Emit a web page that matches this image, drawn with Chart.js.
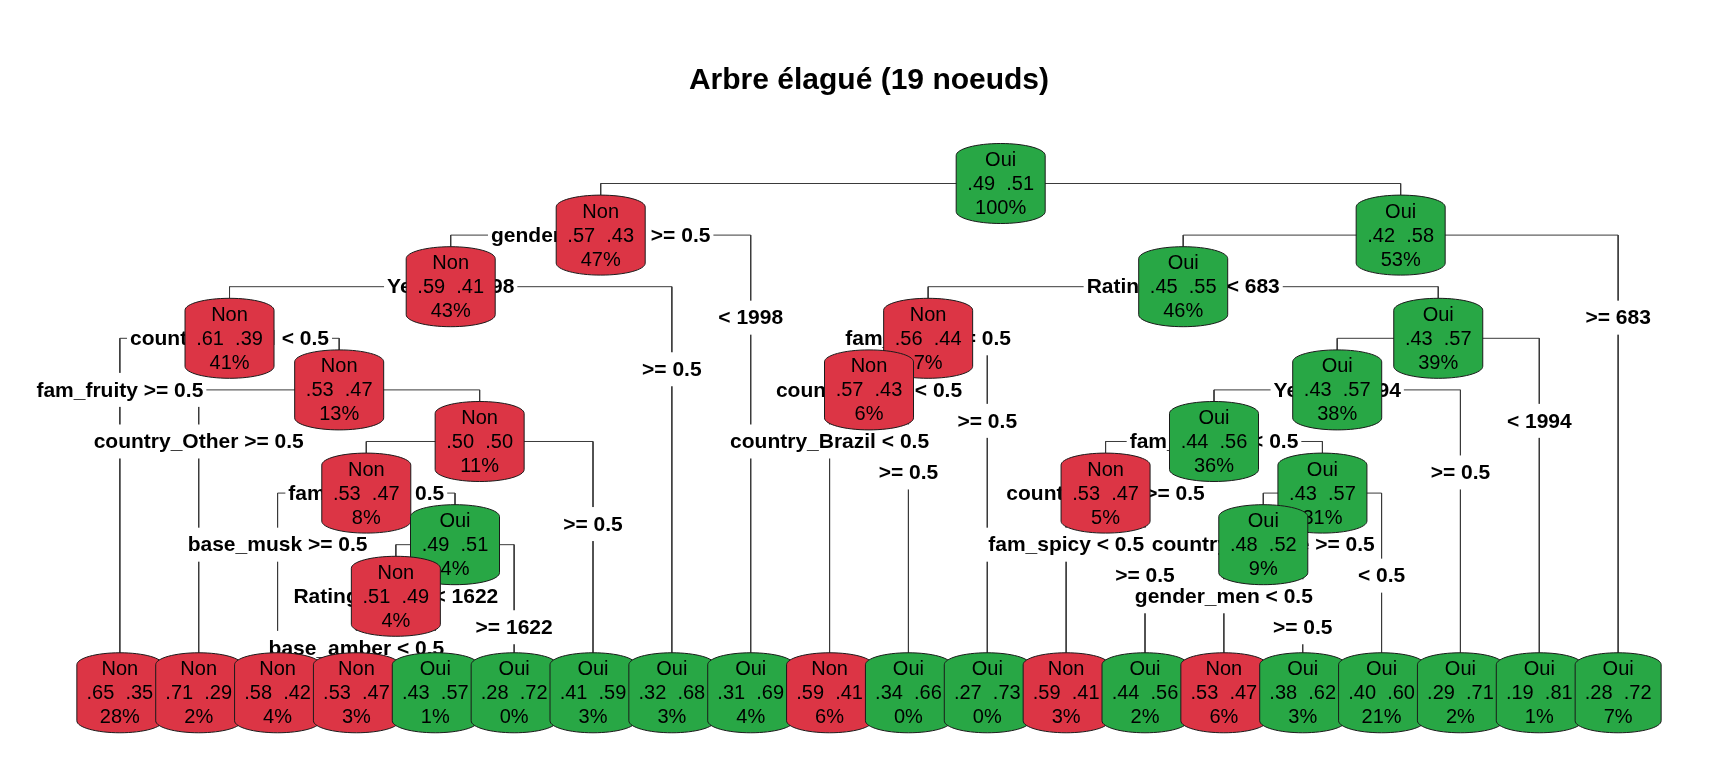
<!DOCTYPE html>
<html>
<head>
<meta charset="utf-8">
<script src="https://cdn.jsdelivr.net/npm/chart.js@4.4.1/dist/chart.umd.min.js"></script>
<style>
  html, body { margin: 0; padding: 0; background: #ffffff; }
  #wrap { width: 1728px; height: 768px; position: relative; }
</style>
</head>
<body>
<div id="wrap"><canvas id="treeChart"></canvas></div>
<script>
// rpart node ids (root = 1, children of n are 2n and 2n+1), preorder
const nodeIds = [1, 2, 4, 8, 16, 17, 34, 35, 70, 140, 141, 282, 564, 565, 283, 71, 9, 5,
  3, 6, 12, 24, 48, 49, 25, 13, 26, 52, 104, 208, 209, 105, 210, 420, 421, 211, 53, 27, 7];
const nodeClass = ['Oui', 'Non', 'Non', 'Non', 'Non', 'Non', 'Non', 'Non', 'Non', 'Non', 'Oui', 'Non', 'Non', 'Oui', 'Oui', 'Oui', 'Oui', 'Oui',
  'Oui', 'Oui', 'Non', 'Non', 'Non', 'Oui', 'Oui', 'Oui', 'Oui', 'Oui', 'Non', 'Non', 'Oui', 'Oui', 'Oui', 'Non', 'Oui', 'Oui', 'Oui', 'Oui', 'Oui'];
const probNon = [.49, .57, .59, .61, .65, .53, .71, .50, .53, .58, .49, .51, .53, .43, .28, .41, .32, .31,
  .42, .45, .56, .57, .59, .34, .27, .43, .43, .44, .53, .59, .44, .43, .48, .53, .38, .40, .29, .19, .28];
const probOui = [.51, .43, .41, .39, .35, .47, .29, .50, .47, .42, .51, .49, .47, .57, .72, .59, .68, .69,
  .58, .55, .44, .43, .41, .66, .73, .57, .57, .56, .47, .41, .56, .57, .52, .47, .62, .60, .71, .81, .72];
const nodePct = [100, 47, 43, 41, 28, 13, 2, 11, 8, 4, 4, 4, 3, 1, 0, 3, 3, 4,
  53, 46, 7, 6, 6, 0, 0, 39, 38, 36, 5, 3, 2, 31, 9, 6, 3, 21, 2, 1, 7];

// split labels: left branch (full) and right branch (short)
const splitIds = [1, 2, 4, 8, 17, 35, 70, 141, 282, 3, 6, 12, 24, 13, 26, 52, 104, 105, 210];
const leftLabels = ['gender_women >= 0.5', 'Year >= 1998', 'country_Brazil < 0.5', 'fam_fruity >= 0.5',
  'country_Other >= 0.5', 'fam_spicy < 0.5', 'base_musk >= 0.5', 'Rating_count < 1622', 'base_amber < 0.5',
  'Rating_count < 683', 'fam_floral >= 0.5', 'country_USA < 0.5', 'country_Brazil < 0.5', 'Year >= 1994',
  'fam_woody < 0.5', 'country_USA >= 0.5', 'fam_spicy < 0.5', 'country_France >= 0.5', 'gender_men < 0.5'];
const rightLabels = ['< 0.5', '< 1998', '>= 0.5', '< 0.5', '< 0.5', '>= 0.5', '< 0.5', '>= 1622', '>= 0.5',
  '>= 683', '< 0.5', '>= 0.5', '>= 0.5', '< 1994', '>= 0.5', '< 0.5', '>= 0.5', '< 0.5', '>= 0.5'];

const chartTitle = 'Arbre élagué (19 noeuds)';

const FONT = '"Liberation Sans", Arial, Helvetica, sans-serif';
const COLORS = { Non: '#DC3545', Oui: '#28A745' };
const LEAF_ROW = 9.87;      // fallen leaves row (in depth units)
const LEFT_OFF = 1, RIGHT_OFF = 1.6;

// layout: leaves get consecutive x, parents sit midway between children
const isNode = new Set(nodeIds);
const layout = {};
let leafCount = 0;
function place(id) {
  const depth = Math.floor(Math.log2(id));
  if (!isNode.has(2 * id)) {
    leafCount += 1;
    layout[id] = { x: leafCount, depth, y: LEAF_ROW, leaf: true };
    return;
  }
  place(2 * id);
  place(2 * id + 1);
  layout[id] = { x: (layout[2 * id].x + layout[2 * id + 1].x) / 2, depth, y: depth, leaf: false };
}
place(1);

const fmtProb = v => v.toFixed(2).replace(/^0/, '');

// branch datasets (square elbows)
const edgeSets = nodeIds.filter(id => id !== 1).map(id => {
  const p = layout[Math.floor(id / 2)], c = layout[id];
  return {
    type: 'line',
    showLine: true,
    data: [{ x: p.x, y: p.y }, { x: c.x, y: p.y }, { x: c.x, y: c.y }],
    borderColor: '#3a3a3a',
    borderWidth: 1,
    pointRadius: 0,
    tension: 0,
    fill: false
  };
});

const nodeSet = {
  type: 'scatter',
  showLine: false,
  data: nodeIds.map(id => ({ x: layout[id].x, y: layout[id].y })),
  pointRadius: 0
};

// box with domed top and bottom
function barrel(ctx, cx, cy, w, h) {
  const x0 = cx - w / 2, x1 = cx + w / 2, yt = cy - h / 2, yb = cy + h / 2;
  const b = 12, k = 0.5523, rx = w / 2;
  ctx.beginPath();
  ctx.moveTo(x0, yt + b);
  ctx.bezierCurveTo(x0, yt + b - k * b, cx - k * rx, yt, cx, yt);
  ctx.bezierCurveTo(cx + k * rx, yt, x1, yt + b - k * b, x1, yt + b);
  ctx.lineTo(x1, yb - b);
  ctx.bezierCurveTo(x1, yb - b + k * b, cx + k * rx, yb, cx, yb);
  ctx.bezierCurveTo(cx - k * rx, yb, x0, yb - b + k * b, x0, yb - b);
  ctx.closePath();
}

const treePlugin = {
  id: 'treeNodes',
  afterDatasetsDraw(chart) {
    const { ctx } = chart;
    const xs = chart.scales.x, ys = chart.scales.y;
    ctx.save();
    ctx.textAlign = 'center';
    ctx.textBaseline = 'middle';

    // split labels: white patches first, then all texts
    ctx.font = 'bold 21px ' + FONT;
    const labels = [];
    splitIds.forEach((id, k) => {
      const p = layout[id];
      [[2 * id, leftLabels[k], LEFT_OFF], [2 * id + 1, rightLabels[k], RIGHT_OFF]].forEach(([cid, txt, off]) => {
        labels.push({
          txt,
          px: xs.getPixelForValue(layout[cid].x),
          py: ys.getPixelForValue(p.depth + off)
        });
      });
    });
    ctx.fillStyle = '#ffffff';
    labels.forEach(l => {
      const w = ctx.measureText(l.txt).width + 6;
      ctx.fillRect(l.px - w / 2, l.py - 17, w, 34);
    });
    ctx.fillStyle = '#000000';
    labels.forEach(l => ctx.fillText(l.txt, l.px, l.py + 1));

    // node boxes: internal nodes by depth, then leaves left to right
    const meta = chart.getDatasetMeta(chart.data.datasets.length - 1);
    const order = nodeIds.map((id, i) => i).sort((a, b) => {
      const la = layout[nodeIds[a]], lb = layout[nodeIds[b]];
      if (la.leaf !== lb.leaf) return la.leaf ? 1 : -1;
      if (!la.leaf && la.depth !== lb.depth) return la.depth - lb.depth;
      return la.x - lb.x;
    });
    ctx.font = '20px ' + FONT;
    order.forEach(i => {
      const pt = meta.data[i];
      const leaf = layout[nodeIds[i]].leaf;
      barrel(ctx, pt.x, pt.y, leaf ? 86 : 89, 80);
      ctx.fillStyle = COLORS[nodeClass[i]];
      ctx.fill();
      ctx.lineWidth = 1;
      ctx.strokeStyle = '#1a1a1a';
      ctx.stroke();
      ctx.fillStyle = '#000000';
      ctx.fillText(nodeClass[i], pt.x, pt.y - 23);
      ctx.fillText(fmtProb(probNon[i]) + '  ' + fmtProb(probOui[i]), pt.x, pt.y + 1);
      ctx.fillText(nodePct[i] + '%', pt.x, pt.y + 25);
    });
    ctx.restore();
  }
};

new Chart(document.getElementById('treeChart'), {
  type: 'scatter',
  data: { datasets: [...edgeSets, nodeSet] },
  options: {
    responsive: true,
    maintainAspectRatio: false,
    animation: false,
    events: [],
    layout: { padding: { left: 41, right: 31, top: 0, bottom: 0 } },
    scales: {
      x: { type: 'linear', min: 0, max: 21, display: false },
      y: { type: 'linear', min: -1.444, max: 11.328, reverse: true, display: false }
    },
    plugins: {
      legend: { display: false },
      tooltip: { enabled: false },
      title: {
        display: true,
        text: chartTitle,
        color: '#000000',
        font: { family: FONT, size: 30, weight: 'bold' },
        padding: { top: 63, bottom: 10 }
      }
    }
  },
  plugins: [treePlugin]
});
</script>
</body>
</html>
